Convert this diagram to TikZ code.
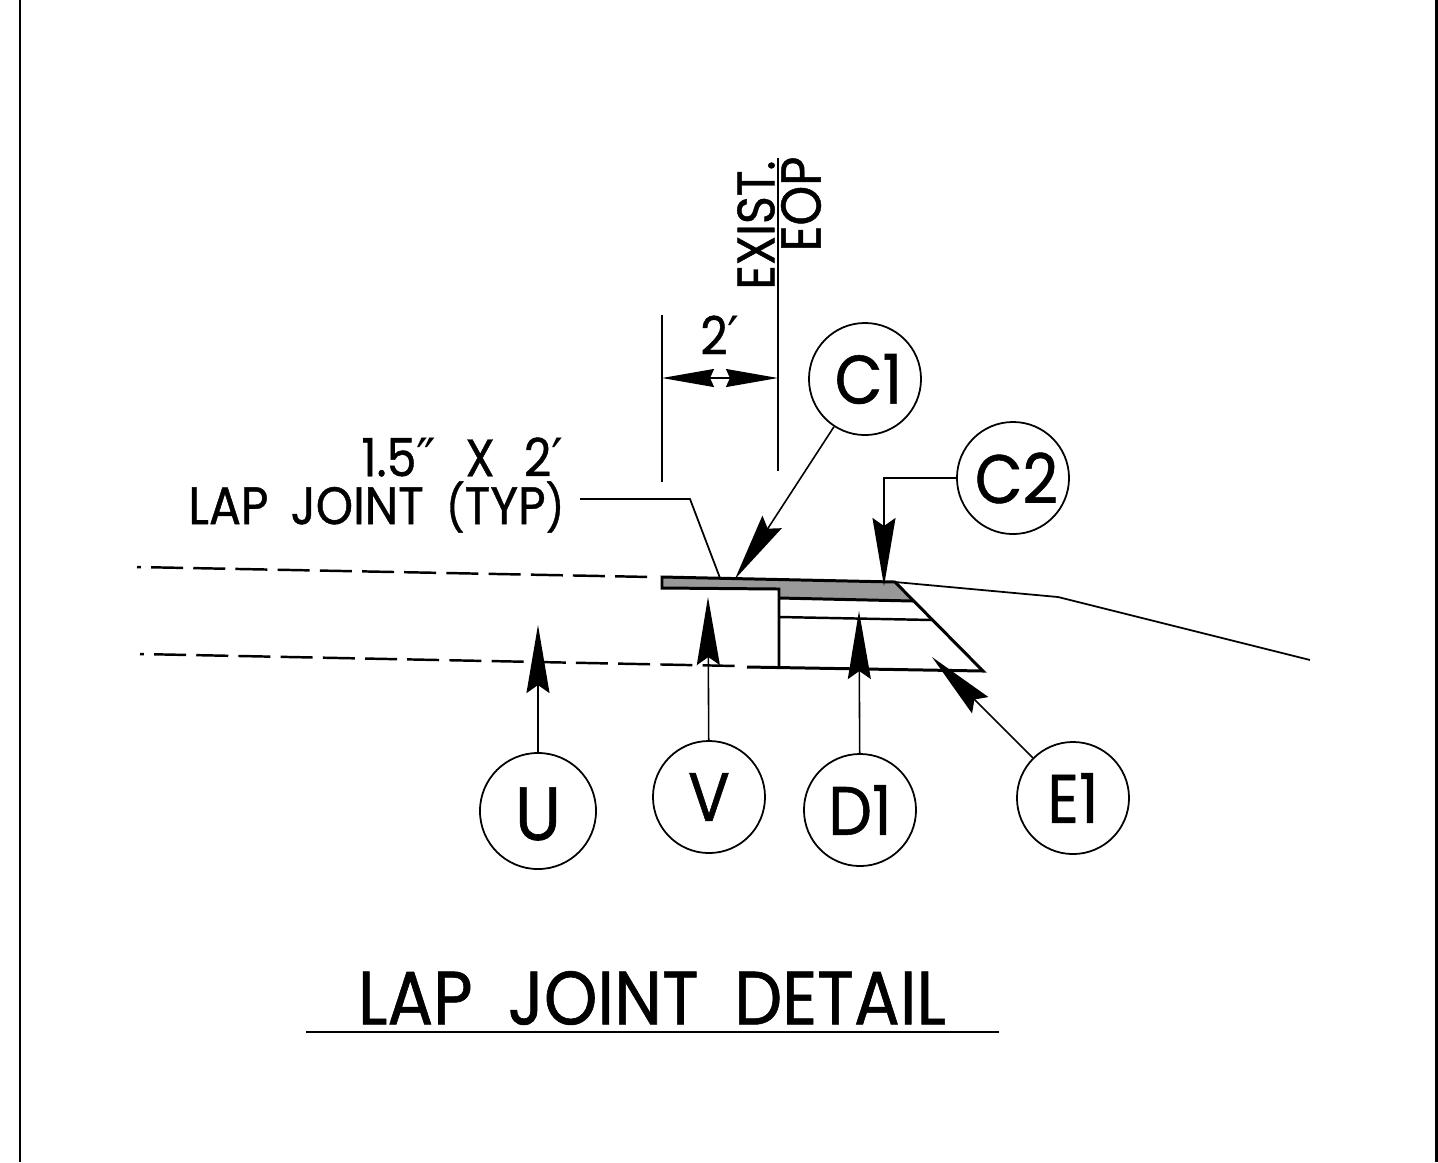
\documentclass[tikz,border=0pt]{standalone}
\usepackage{fontspec}
\setmainfont{Poppins}[FakeStretch=0.9, FakeBold=0.8, WordSpace=1.75]
\newfontfamily\primefont{DejaVu Sans}
\newcommand{\ftmark}{{\primefont\fontsize{15}{15}\selectfont ′}}
\newcommand{\inmark}{{\primefont\fontsize{15}{15}\selectfont ″}}
\newcommand{\paren}[1]{{\fontsize{13}{13}\selectfont #1}}
\usetikzlibrary{arrows.meta}
\tikzset{
    callout/.style={draw, circle, line width=0.5pt, minimum size=1.12cm, inner sep=0pt, font=\fontsize{19.5}{19.5}\selectfont},
    leader/.style={line width=0.45pt, -{Stealth[length=6.8mm, width=2.3mm, inset=0.8mm]}},
    dimarrow/.style={line width=0.45pt, {Stealth[length=5.2mm, width=1.8mm, inset=0.4mm]}-{Stealth[length=5.2mm, width=1.8mm, inset=0.4mm]}},
    thinline/.style={line width=0.5pt},
    label/.style={inner sep=0pt, font=\fontsize{15}{15}\selectfont},
    pave/.style={line width=0.85pt},
    edgeline/.style={line width=0.7pt, dash pattern=on 9.1pt off 2.9pt, dash phase=8pt}
}
\begin{document}
\begin{tikzpicture}[x=0.01cm, y=-0.01cm]
    \useasboundingbox (0,0) rectangle (1438,1162);
    % sheet border
    \draw[line width=0.8pt] (20,0) -- (20,1162);
    \draw[line width=0.8pt] (1436.5,0) -- (1436.5,1162);
    % overlay and section
    \fill[gray!80] (662,577) -- (895,582) -- (913,601) -- (779,598) -- (779,589) -- (662,588) -- cycle;
    \draw[pave] (779,598) -- (913,601);
    \draw[pave] (747,667) -- (983,671) -- (895,582) -- (662,577) -- (662,588) -- (779,589) -- (779,667);
    \draw[line width=0.7pt] (779,617) -- (933,620);
    \draw[thinline] (895,582) -- (1058,597) -- (1310,660);
    \draw[edgeline] (137,567) -- (652,577);
    \draw[edgeline] (140,654) -- (737,666);
    % dimension
    \coordinate (dimL) at (662,378);
    \coordinate (dimR) at (778,378);
    \draw[thinline] (662,315) -- (662,482);
    \draw[thinline] (778,158) -- (778,471);
    \draw[dimarrow] (dimL) -- (dimR);
    \node[label] (dimtext) at (720,335) {2\ftmark};
    \node[label, rotate=90] (exist) at (756,225) {EXIST.};
    \node[label, rotate=90, font=\fontsize{16}{16}\selectfont] (eop) at (801,204) {EOP};
    % callouts
    \node[callout] (C1) at (865,379) {\hspace*{2pt}C1};
    \node[callout] (C2) at (1013,478) {\hspace*{2pt}C2};
    \node[callout, minimum size=1.16cm, font=\fontsize{21.5}{21.5}\selectfont, text height=16.5pt, text depth=0pt] (U) at (538,811) {U};
    \node[callout] (V) at (709,797) {V};
    \node[callout] (D1) at (860,810) {D1};
    \node[callout] (E1) at (1073,798) {E1};
    \coordinate (tipC1) at (735,579);
    \coordinate (tipC2) at (884,586);
    \coordinate (tipU) at (538,625);
    \coordinate (tipV) at (708,597);
    \coordinate (tipD1) at (859,611);
    \coordinate (tipE1) at (932,657);
    \draw[leader] (C1) -- (tipC1);
    \draw[leader] (C2) -| (tipC2);
    \draw[leader] (U) -- (tipU);
    \draw[leader] (V) -- (tipV);
    \draw[leader] (D1) -- (tipD1);
    \draw[leader] (E1) -- (tipE1);
    % lap joint note
    \node[label, anchor=east] (note1) at (564,457) {1.5\inmark\hspace{2pt} X\hspace{2pt} 2\ftmark};
    \node[label, anchor=east] (note2) at (565,507) {LAP JOINT \paren{(}TYP\paren{)}};
    \coordinate (noteEnd) at (720,578);
    \draw[thinline] (580,499) -- (690,499) -- (noteEnd);
    % title
    \node[inner sep=0pt, font=\fontsize{21.5}{21.5}\selectfont] (title) at (652,998) {LAP\hspace{1pt} JOINT\hspace{1pt} DETAIL};
    \draw[line width=0.6pt] (306,1032) -- (999,1032);
\end{tikzpicture}
\end{document}
